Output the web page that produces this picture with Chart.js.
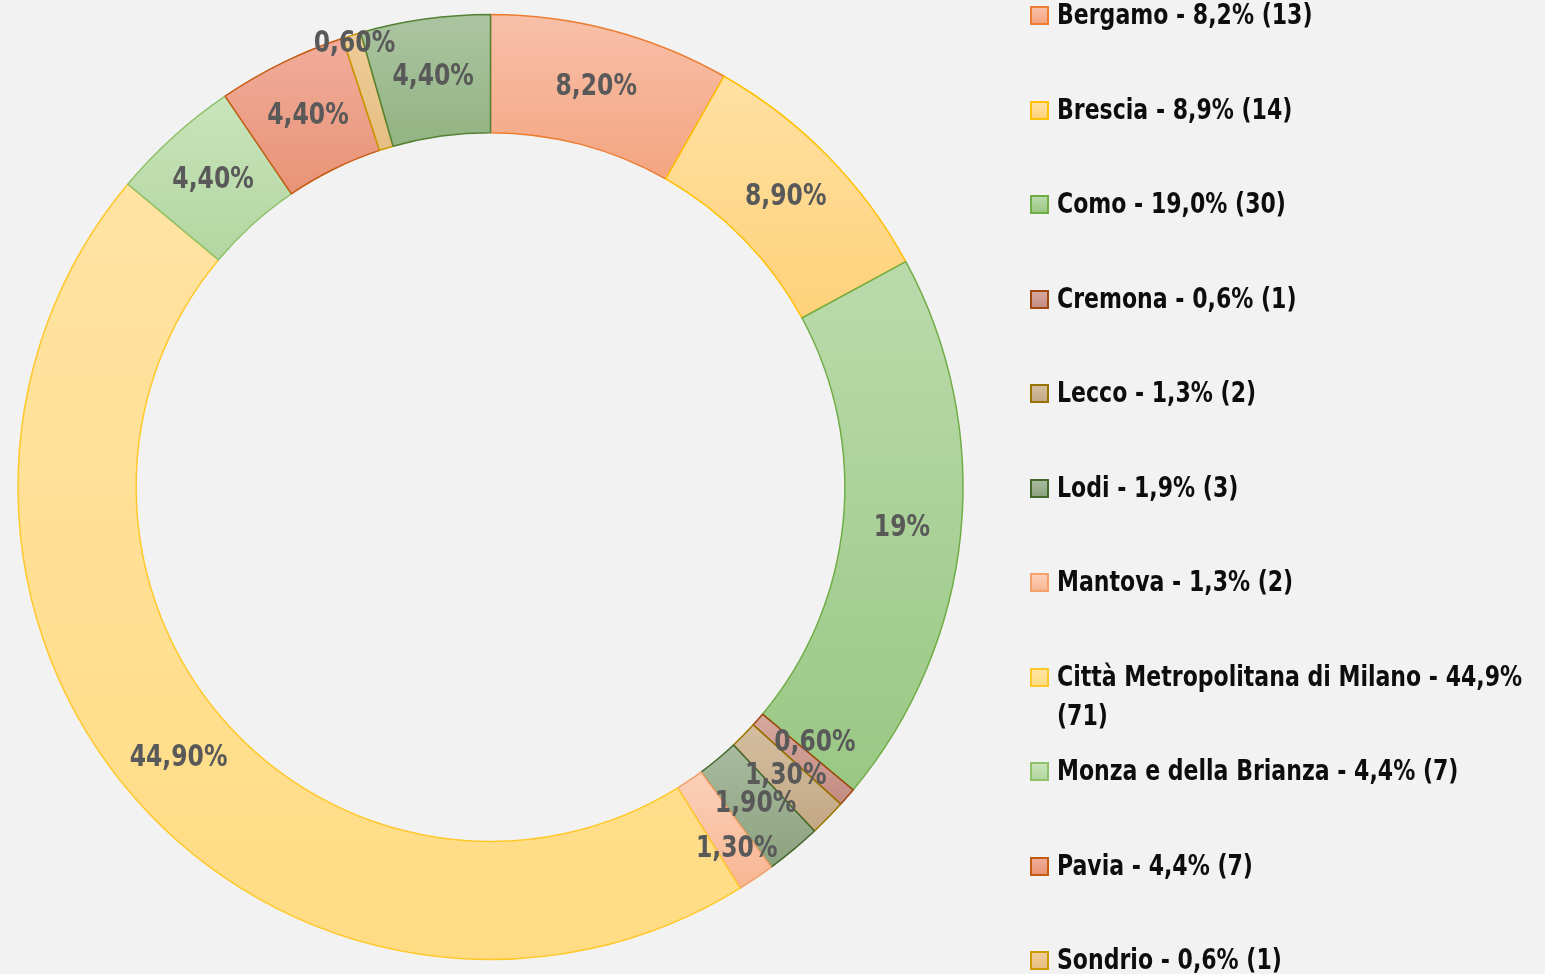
<!DOCTYPE html>
<html>
<head>
<meta charset="utf-8">
<script src="https://cdn.jsdelivr.net/npm/chart.js@4.4.1/dist/chart.umd.min.js"></script>
<style>
  html, body { margin: 0; padding: 0; background: #f2f2f2; }
  #wrap { position: relative; width: 1545px; height: 974px; overflow: hidden; }
  #chart { position: absolute; left: 0; top: 0; }
  #legend { position: absolute; left: 1030px; top: 0; }
  .item { position: absolute; left: 0; width: 520px; }
  .box { position: absolute; left: 0; width: 15px; height: 15px; border: 2px solid; }
  .txt { position: absolute; left: 27px; width: 558px; font-family: "DejaVu Sans Condensed", "Liberation Sans Narrow", sans-serif;
         font-weight: bold; font-size: 28px; line-height: 39px; color: #0d0d0d;
         transform: scaleX(0.875); transform-origin: 0 0; }
</style>
</head>
<body>
<div id="wrap">
  <canvas id="chart" width="1545" height="974"></canvas>
  <div id="legend"></div>
</div>
<script>
// province data (count of entries)
const provinces = ["Bergamo", "Brescia", "Como", "Cremona", "Lecco", "Lodi", "Mantova",
  "Città Metropolitana di Milano", "Monza e della Brianza", "Pavia", "Sondrio", "Varese"];
const counts = [13, 14, 30, 1, 2, 3, 2, 71, 7, 7, 1, 7];
const sliceLabels = ["8,20%", "8,90%", "19%", "0,60%", "1,30%", "1,90%", "1,30%",
  "44,90%", "4,40%", "4,40%", "0,60%", "4,40%"];

// colours: gradient top, gradient bottom, border
const topColors = ["#f8c0a9", "#ffe1a3", "#badaab", "#d6a89e", "#d4bea0", "#a8bb9f", "#fbd0b9",
  "#ffe3a2", "#c9e4bb", "#f0ad9b", "#efcd99", "#abc5a1"];
const bottomColors = ["#f4a580", "#ffd17a", "#9ac884", "#c48c82", "#c3a884", "#8ca27f", "#f8b693",
  "#ffdc84", "#b2d6a1", "#e99376", "#e5be83", "#92b383"];
const borderColors = ["#ed7d31", "#ffc000", "#70ad47", "#9e480e", "#997300", "#43682b", "#f4a06a",
  "#ffc82a", "#8fc16a", "#c55a11", "#cc9a00", "#548235"];
// nudges for crowded labels (radial factor, angle in degrees)
const labelPush = [1, 1, 1, 1, 1, 1, 1.06, 1, 1, 1, 1.12, 1];
const labelTurn = [0, 0, 0, -2.7, 0, 0, 0, 0, 0, 0, 0, 0];

const RADIUS = 472.5;
const total = counts.reduce((a, b) => a + b, 0);

function sliceFill(c) {
  const chart = c.chart;
  const i = c.dataIndex;
  const area = chart.chartArea;
  if (!area || i === undefined) return bottomColors[i] || "#ccc";
  const cx = (area.left + area.right) / 2;
  const cy = (area.top + area.bottom) / 2;
  let cum = 0;
  for (let j = 0; j < i; j++) cum += counts[j];
  const a0 = -Math.PI / 2 + 2 * Math.PI * cum / total;
  const a1 = a0 + 2 * Math.PI * counts[i] / total;
  const ys = [];
  [RADIUS, RADIUS * 0.75].forEach((r) => {
    ys.push(cy + r * Math.sin(a0), cy + r * Math.sin(a1));
  });
  if (a0 <= Math.PI / 2 && a1 >= Math.PI / 2) ys.push(cy + RADIUS);
  if (a0 <= -Math.PI / 2 + 1e-9 || a1 >= 1.5 * Math.PI) ys.push(cy - RADIUS);
  const g = chart.ctx.createLinearGradient(0, Math.min(...ys), 0, Math.max(...ys));
  g.addColorStop(0, topColors[i]);
  g.addColorStop(1, bottomColors[i]);
  return g;
}

// draws the percentage text in the middle of each slice
const sliceText = {
  id: "sliceText",
  afterDatasetsDraw(chart) {
    const ctx = chart.ctx;
    const meta = chart.getDatasetMeta(0);
    ctx.save();
    ctx.font = 'bold 30px "DejaVu Sans Condensed", "Liberation Sans Narrow", sans-serif';
    ctx.fillStyle = "#595959";
    ctx.textAlign = "center";
    ctx.textBaseline = "middle";
    meta.data.forEach((arc, i) => {
      const p = arc.getProps(["x", "y", "startAngle", "endAngle", "innerRadius", "outerRadius"], true);
      const mid = (p.startAngle + p.endAngle) / 2 + labelTurn[i] * Math.PI / 180;
      const r = (p.innerRadius + p.outerRadius) / 2 * labelPush[i];
      ctx.save();
      ctx.translate(p.x + Math.cos(mid) * r, p.y + Math.sin(mid) * r);
      ctx.scale(0.87, 1);
      ctx.fillText(sliceLabels[i], 0, 0);
      ctx.restore();
    });
    ctx.restore();
  }
};

new Chart(document.getElementById("chart"), {
  type: "doughnut",
  data: {
    labels: provinces,
    datasets: [{
      data: counts,
      backgroundColor: sliceFill,
      borderColor: borderColors,
      borderWidth: 1.5,
      hoverOffset: 0
    }]
  },
  options: {
    responsive: false,
    animation: false,
    radius: RADIUS,
    cutout: "75%",
    layout: { padding: { left: 0, top: 0, bottom: 0, right: 1545 - 981 } },
    plugins: {
      legend: { display: false },
      tooltip: { enabled: false }
    }
  },
  plugins: [sliceText]
});

// legend on the right
const legend = document.getElementById("legend");
provinces.forEach((name, i) => {
  const pct = (counts[i] / total * 100).toFixed(1).replace(".", ",");
  const item = document.createElement("div");
  item.className = "item";
  item.style.top = (i * 94.5) + "px";
  const box = document.createElement("div");
  box.className = "box";
  box.style.top = "6px";
  box.style.background = "linear-gradient(" + topColors[i] + ", " + bottomColors[i] + ")";
  box.style.borderColor = borderColors[i];
  const txt = document.createElement("div");
  txt.className = "txt";
  txt.style.top = "-5px";
  txt.textContent = name + " - " + pct + "% (" + counts[i] + ")";
  item.appendChild(box);
  item.appendChild(txt);
  legend.appendChild(item);
});
</script>
</body>
</html>
